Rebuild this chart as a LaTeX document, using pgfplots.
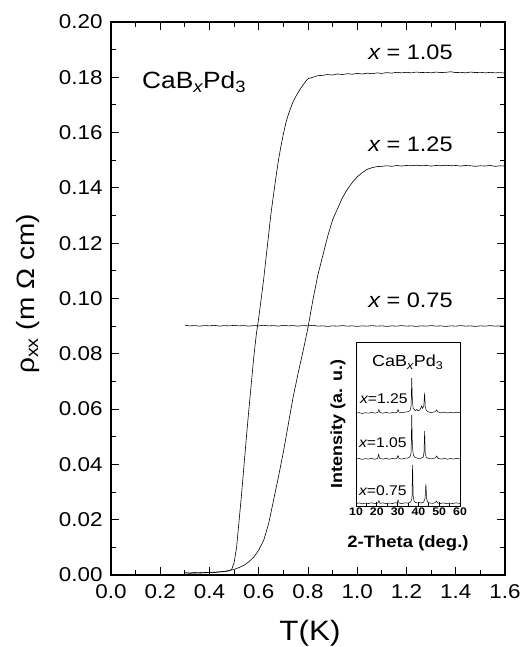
\documentclass[border=0pt]{standalone}
\usepackage{fontspec}
\setmainfont{Liberation Sans}[FakeStretch=1.12]
\usepackage{pgfplots}
\pgfplotsset{compat=1.18}
\begin{document}
\begin{tikzpicture}[x=1pt,y=1pt]
\useasboundingbox (0,0) rectangle (521,647);
\begin{axis}[
  at={(111pt,72pt)}, anchor=south west,
  scale only axis, width=394pt, height=553pt,
  xmin=0, xmax=1.6, ymin=0, ymax=0.2,
  xtick={0,0.2,0.4,0.6,0.8,1.0,1.2,1.4,1.6}, minor x tick num=1,
  ytick={0,0.02,0.04,0.06,0.08,0.10,0.12,0.14,0.16,0.18,0.20}, minor y tick num=1,
  tick align=inside, major tick length=8pt, minor tick length=5pt,
  axis line style={line width=1.1pt},
  every tick/.style={line width=0.9pt, black},
  /pgf/number format/assume math mode=true,
  x tick label style={font=\fontsize{20}{22}\selectfont, yshift=-6pt, /pgf/number format/.cd, fixed, fixed zerofill, precision=1, /tikz/.cd},
  y tick label style={font=\fontsize{20}{22}\selectfont, xshift=-5pt, /pgf/number format/.cd, fixed, fixed zerofill, precision=2, /tikz/.cd},
  scaled y ticks=false,
  xlabel={T(K)},
  xlabel style={at={(axis description cs:0.505,-0.105)}, anchor=center, font=\fontsize{28}{30}\selectfont},
  ylabel={ρ\textsubscript{xx} (m Ω cm)},
  ylabel style={at={(axis description cs:-0.2107,0.508)}, anchor=center, rotate=0, font=\fontsize{25}{27}\selectfont},
]
% x = 1.05
\addplot[black, line width=0.6pt] coordinates {
(0.30,0.0008) (0.32,0.0006) (0.34,0.0009) (0.36,0.0007) (0.38,0.0008) (0.40,0.0010)
(0.42,0.0009) (0.44,0.0011) (0.46,0.0012) (0.48,0.0015) (0.49,0.0020) (0.50,0.0045)
(0.51,0.0100) (0.52,0.0195) (0.53,0.0290) (0.54,0.0395) (0.55,0.0500) (0.56,0.0600)
(0.57,0.0695) (0.58,0.0790) (0.59,0.0870) (0.60,0.0930) (0.61,0.1000) (0.62,0.1070)
(0.63,0.1150) (0.64,0.1230) (0.65,0.1310) (0.66,0.1375) (0.67,0.1440) (0.68,0.1500)
(0.69,0.1550) (0.70,0.1595) (0.71,0.1635) (0.72,0.1665) (0.73,0.1690) (0.74,0.1712)
(0.75,0.1730) (0.76,0.1745) (0.77,0.1760) (0.78,0.1772) (0.79,0.1785) (0.80,0.1795)
(0.82,0.1800) (0.84,0.1806)
(0.86,0.1807) (0.88,0.1810) (0.90,0.1808) (0.92,0.1812) (0.94,0.1810) (0.96,0.1813)
(0.98,0.1811) (1.00,0.1814) (1.02,0.1812) (1.04,0.1815) (1.06,0.1813) (1.08,0.1816)
(1.10,0.1814) (1.12,0.1817) (1.14,0.1815) (1.16,0.1818) (1.18,0.1816) (1.20,0.1818)
(1.22,0.1816) (1.24,0.1819) (1.26,0.1817) (1.28,0.1818) (1.30,0.1816) (1.32,0.1819)
(1.34,0.1817) (1.36,0.1818) (1.38,0.1820) (1.40,0.1817) (1.42,0.1818) (1.44,0.1816)
(1.46,0.1819) (1.48,0.1817) (1.50,0.1818) (1.52,0.1816) (1.54,0.1818) (1.56,0.1816)
(1.58,0.1817) (1.60,0.1815)
};
% x = 1.25
\addplot[black, line width=0.6pt] coordinates {
(0.30,0.0008) (0.34,0.0007) (0.38,0.0009) (0.42,0.0010) (0.46,0.0013) (0.50,0.0020)
(0.52,0.0027) (0.54,0.0035) (0.56,0.0048) (0.58,0.0065) (0.60,0.0090) (0.62,0.0125)
(0.64,0.0185) (0.66,0.0270) (0.68,0.0355) (0.70,0.0445) (0.72,0.0545) (0.74,0.0645)
(0.76,0.0730) (0.78,0.0810) (0.80,0.0895) (0.82,0.0995) (0.84,0.1085) (0.86,0.1155)
(0.88,0.1225) (0.90,0.1285) (0.92,0.1325) (0.94,0.1365) (0.96,0.1395) (0.98,0.1420)
(1.00,0.1440) (1.02,0.1455) (1.04,0.1467) (1.06,0.1473) (1.08,0.1477)
(1.10,0.1478) (1.12,0.1480) (1.14,0.1478) (1.16,0.1481) (1.18,0.1479) (1.20,0.1481)
(1.22,0.1480) (1.24,0.1482) (1.26,0.1480) (1.28,0.1481) (1.30,0.1479) (1.32,0.1481)
(1.34,0.1480) (1.36,0.1482) (1.38,0.1480) (1.40,0.1481) (1.42,0.1479) (1.44,0.1481)
(1.46,0.1480) (1.48,0.1478) (1.50,0.1480) (1.52,0.1479) (1.54,0.1481) (1.56,0.1478)
(1.58,0.1480) (1.60,0.1479)
};
% x = 0.75
\addplot[black, line width=0.6pt] coordinates {
(0.30,0.0903) (0.32,0.0901) (0.34,0.0902) (0.36,0.0900) (0.38,0.0902) (0.40,0.0901)
(0.42,0.0903) (0.44,0.0900) (0.46,0.0902) (0.48,0.0901) (0.50,0.0903) (0.52,0.0901)
(0.54,0.0902) (0.56,0.0900) (0.58,0.0902) (0.60,0.0901) (0.62,0.0903) (0.64,0.0901)
(0.66,0.0902) (0.68,0.0900) (0.70,0.0903) (0.72,0.0901) (0.74,0.0902) (0.76,0.0900)
(0.78,0.0902) (0.80,0.0901) (0.82,0.0903) (0.84,0.0900) (0.86,0.0901) (0.88,0.0899)
(0.90,0.0901) (0.92,0.0900) (0.94,0.0902) (0.96,0.0900) (0.98,0.0901) (1.00,0.0899)
(1.02,0.0901) (1.04,0.0900) (1.06,0.0902) (1.08,0.0900) (1.10,0.0901) (1.12,0.0899)
(1.14,0.0901) (1.16,0.0900) (1.18,0.0902) (1.20,0.0900) (1.22,0.0901) (1.24,0.0899)
(1.26,0.0901) (1.28,0.0900) (1.30,0.0902) (1.32,0.0900) (1.34,0.0901) (1.36,0.0899)
(1.38,0.0901) (1.40,0.0900) (1.42,0.0902) (1.44,0.0900) (1.46,0.0901) (1.48,0.0899)
(1.50,0.0901) (1.52,0.0900) (1.54,0.0902) (1.56,0.0900) (1.58,0.0901) (1.60,0.0900)
};
\node[anchor=base west, font=\fontsize{23.5}{25}\selectfont, inner sep=0pt] at (axis cs:0.126,0.176) {CaB\textsubscript{\itshape x}Pd\textsubscript{3}};
\node[anchor=base west, font=\fontsize{21}{23}\selectfont, inner sep=0pt] at (axis cs:1.044,0.1863) {{\itshape x} = 1.05};
\node[anchor=base west, font=\fontsize{21}{23}\selectfont, inner sep=0pt] at (axis cs:1.044,0.153) {{\itshape x} = 1.25};
\node[anchor=base west, font=\fontsize{21}{23}\selectfont, inner sep=0pt] at (axis cs:1.044,0.0966) {{\itshape x} = 0.75};
\end{axis}

\begin{axis}[
  at={(356pt,141pt)}, anchor=south west,
  scale only axis, width=104pt, height=164pt,
  xmin=10, xmax=60, ymin=0, ymax=100,
  axis background/.style={fill=white},
  xtick={10,20,30,40,50,60}, minor x tick num=1, ytick=\empty,
  xtick pos=lower,
  tick align=inside, major tick length=4pt, minor tick length=2.5pt,
  axis line style={line width=0.8pt},
  every tick/.style={line width=0.7pt, black},
  /pgf/number format/assume math mode=true,
  x tick label style={font=\bfseries\fontsize{11}{12}\selectfont, inner sep=1pt, yshift=-1pt},
  xlabel={2-Theta (deg.)},
  xlabel style={at={(axis description cs:0.5,-0.226)}, anchor=center, font=\bfseries\fontsize{16.5}{18}\selectfont},
  ylabel={Intensity (a. u.)},
  ylabel style={at={(axis description cs:-0.173,0.5)}, anchor=center, rotate=0, font=\bfseries\fontsize{16}{18}\selectfont},
]
\addplot[black, line width=0.5pt] coordinates {
(10,1.4) (11.5,1.9) (13,1.3) (14.5,1.8) (16,1.5) (17.5,2.0) (19,1.4) (20.5,1.8) (21.0,3.2)
(21.5,1.6) (23,1.9) (24.5,1.4) (26,1.8) (27.5,1.5) (29,2.0) (29.8,1.7) (30.2,3.6) (30.7,1.8)
(32,1.5) (33.5,1.9) (35,1.8) (36.2,2.4) (36.9,4.5) (37.2,25) (37.5,6) (37.9,3.0) (38.5,2.2)
(39.5,1.9) (40.5,2.1) (41.5,1.8) (42.5,2.3) (43.2,4.5) (43.6,13.5) (44.0,4.0) (44.6,2.2)
(45.5,1.8) (47,1.6) (48.2,2.2) (48.7,3.0) (49.3,1.8) (50.5,1.5) (52,1.9) (53.5,1.4) (55,1.8)
(56.5,1.5) (58,1.9) (60,1.6)
};
\addplot[black, line width=0.5pt] coordinates {
(10,28.5) (11.5,29.0) (13,28.4) (14.5,28.9) (16,28.6) (17.5,29.1) (19,28.5) (20.4,29.0)
(20.9,31.5) (21.4,29.0) (23,28.6) (24.5,29.1) (26,28.5) (27.5,29.0) (29,28.7) (29.8,29.3)
(30.2,30.8) (30.7,29.0) (32,28.6) (33.5,29.1) (35,29.3) (36.0,30.0) (36.5,32.5) (36.8,55.5)
(37.1,36) (37.6,31.0) (38.3,29.8) (39.3,29.2) (40.5,29.0) (41.5,29.2) (42.3,29.8) (42.7,33)
(43.0,45.7) (43.3,32) (43.8,29.7) (44.6,29.0) (46,28.7) (47.5,29.1) (48.3,29.6) (48.8,30.5)
(49.4,29.0) (51,28.6) (52.5,29.1) (54,28.5) (55.5,29.0) (57,28.6) (58.5,29.1) (60,28.7)
};
\addplot[black, line width=0.5pt] coordinates {
(10,56.5) (11.5,57.0) (13,56.4) (14.5,56.9) (16,56.6) (17.5,57.1) (19,56.6) (20.5,57.0)
(21.0,58.8) (21.5,57.0) (23,56.6) (24.5,57.1) (26,56.6) (27.5,57.0) (29,56.8) (29.8,57.3)
(30.2,58.8) (30.7,57.2) (32,56.8) (33.5,57.2) (35,57.5) (36.0,58.2) (36.5,61) (36.8,78)
(37.1,64) (37.5,59.5) (38.0,58.8) (38.6,58.2) (39.2,58.9) (39.8,58.0) (40.5,58.4) (41.2,59.8)
(41.6,61.0) (42.0,59.5) (42.6,61) (43.0,69) (43.3,60.5) (43.8,58.3) (44.6,57.5) (46,57.0)
(47.5,57.3) (48.3,57.8) (48.8,58.6) (49.4,57.3) (51,56.8) (52.5,57.2) (54,56.7) (55.5,57.1)
(57,56.8) (58.5,57.1) (60,56.9)
};
\node[anchor=base west, font=\fontsize{16}{18}\selectfont, inner sep=0pt] at (axis cs:17.7,84.8) {CaB\textsubscript{\itshape x}Pd\textsubscript{3}};
\node[anchor=base west, font=\fontsize{14}{16}\selectfont, inner sep=0pt] at (axis cs:11.9,62.8) {{\itshape x}=1.25};
\node[anchor=base west, font=\fontsize{14}{16}\selectfont, inner sep=0pt] at (axis cs:11.4,35.4) {{\itshape x}=1.05};
\node[anchor=base west, font=\fontsize{14}{16}\selectfont, inner sep=0pt] at (axis cs:11.4,6.1) {{\itshape x}=0.75};
\end{axis}
\end{tikzpicture}
\end{document}
